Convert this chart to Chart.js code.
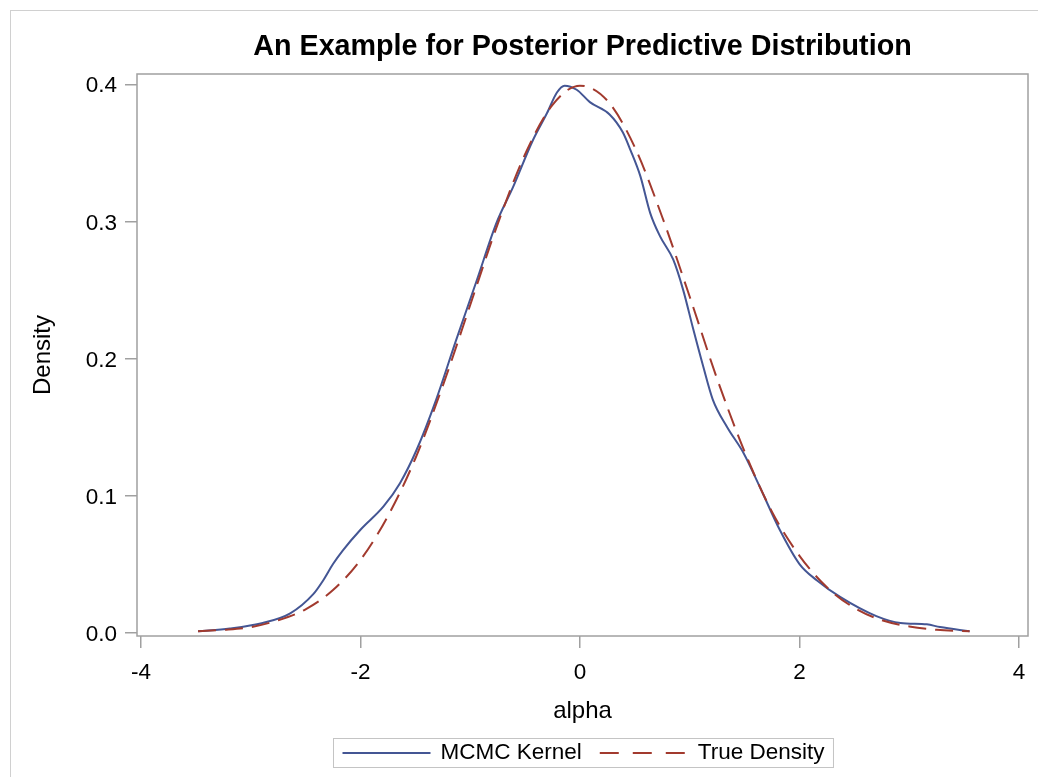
<!DOCTYPE html>
<html>
<head>
<meta charset="utf-8">
<title>An Example for Posterior Predictive Distribution</title>
<script src="https://cdn.jsdelivr.net/npm/chart.js@4.4.1/dist/chart.umd.min.js"></script>
<style>
  html, body { margin: 0; padding: 0; background: #fff; }
  #wrap { width: 1038px; height: 777px; position: relative; }
</style>
</head>
<body>
<div id="wrap"><canvas id="ppdChart" width="1038" height="777"></canvas></div>
<script>
'use strict';

// ------------------------------------------------------------
// Data
// ------------------------------------------------------------
const chartTitle = 'An Example for Posterior Predictive Distribution';
const xTicks = [-4, -2, 0, 2, 4];
const yTicks = [0.0, 0.1, 0.2, 0.3, 0.4];

// MCMC kernel density estimate (blue, solid)
const kernelX = [-3.48, -3.19, -2.89, -2.64, -2.43, -2.34, -2.25, -2.16, -2.0, -1.79,
                 -1.64, -1.49, -1.31, -1.13, -0.94, -0.76, -0.61, -0.43, -0.30, -0.21,
                 -0.14, -0.03, 0.09, 0.27, 0.39, 0.46, 0.55, 0.64, 0.73, 0.85,
                 0.94, 1.03, 1.12, 1.21, 1.34, 1.49, 1.64, 1.82, 2.0, 2.16,
                 2.37, 2.70, 2.92, 3.16, 3.28, 3.55];
const kernelY = [0.001, 0.003, 0.007, 0.014, 0.028, 0.038, 0.050, 0.060, 0.075, 0.092,
                 0.109, 0.133, 0.170, 0.213, 0.257, 0.299, 0.325, 0.359, 0.379, 0.394,
                 0.399, 0.396, 0.387, 0.378, 0.365, 0.352, 0.333, 0.306, 0.289, 0.272,
                 0.250, 0.222, 0.195, 0.170, 0.150, 0.131, 0.106, 0.075, 0.050, 0.038,
                 0.026, 0.012, 0.007, 0.006, 0.004, 0.001];

// True density (red, dashed)
const trueX = [-3.48, -3.25, -3.0, -2.75, -2.5, -2.25, -2.0, -1.75, -1.5, -1.25,
               -1.0, -0.75, -0.5, -0.25, 0.0, 0.25, 0.5, 0.75, 1.0, 1.25,
               1.5, 1.75, 2.0, 2.25, 2.5, 2.75, 3.0, 3.25, 3.55];
const trueY = [0.001, 0.002, 0.004, 0.009, 0.017, 0.031, 0.053, 0.085, 0.127, 0.180,
               0.239, 0.298, 0.349, 0.385, 0.399, 0.388, 0.354, 0.303, 0.245, 0.185,
               0.132, 0.088, 0.056, 0.033, 0.018, 0.009, 0.0045, 0.002, 0.001];

const FONT = "'Liberation Sans', Arial, sans-serif";
const AXIS_GRAY = '#a0a0a0';

const zip = (xs, ys) => xs.map((x, i) => ({ x, y: ys[i] }));

// ------------------------------------------------------------
// Title (centred on plot area), frame, outer border, legend
// ------------------------------------------------------------
const framePlugin = {
    id: 'frame',
    beforeDraw(chart) {
        const ctx = chart.ctx;
        ctx.save();
        ctx.strokeStyle = '#d0d0d0';
        ctx.lineWidth = 1;
        ctx.strokeRect(10.5, 10.5, chart.width + 10, chart.height + 10);
        ctx.restore();
    },
    afterDraw(chart) {
        const ctx = chart.ctx;
        const a = chart.chartArea;
        const cx = (a.left + a.right) / 2;

        // title
        ctx.save();
        ctx.font = 'bold 28.7px ' + FONT;
        ctx.fillStyle = '#000';
        ctx.textAlign = 'center';
        ctx.textBaseline = 'alphabetic';
        ctx.fillText(chartTitle, cx, 55);
        ctx.restore();

        // plot frame
        ctx.save();
        ctx.strokeStyle = AXIS_GRAY;
        ctx.lineWidth = 1.5;
        ctx.strokeRect(a.left, a.top, a.right - a.left, a.bottom - a.top);
        ctx.restore();

        // legend
        const ds = chart.data.datasets;
        ctx.save();
        ctx.font = '22.5px ' + FONT;
        const sampleLen = 88, gapText = 10, gapItem = 18, pad = 9;
        const widths = ds.map(d => ctx.measureText(d.label).width);
        const total = pad * 2 + ds.length * (sampleLen + gapText) + widths.reduce((s, w) => s + w, 0) + gapItem * (ds.length - 1);
        const boxX = Math.round(cx - total / 2) + 0.5;
        const boxY = 738.5, boxH = 29;
        ctx.strokeStyle = '#c4c4c4';
        ctx.lineWidth = 1;
        ctx.strokeRect(boxX, boxY, total, boxH);

        const midY = boxY + boxH / 2;
        let x = boxX + pad;
        ds.forEach((d, i) => {
            ctx.strokeStyle = d.borderColor;
            ctx.lineWidth = d.borderWidth;
            ctx.setLineDash(d.legendDash || []);
            ctx.beginPath();
            ctx.moveTo(x, midY);
            ctx.lineTo(x + sampleLen, midY);
            ctx.stroke();
            ctx.setLineDash([]);
            x += sampleLen + gapText;
            ctx.fillStyle = '#000';
            ctx.textBaseline = 'middle';
            ctx.textAlign = 'left';
            ctx.fillText(d.label, x, midY);
            x += widths[i] + gapItem;
        });
        ctx.restore();
    }
};

// ------------------------------------------------------------
// Chart
// ------------------------------------------------------------
new Chart(document.getElementById('ppdChart'), {
    type: 'line',
    data: {
        datasets: [
            {
                label: 'MCMC Kernel',
                data: zip(kernelX, kernelY),
                borderColor: '#445694',
                borderWidth: 2,
                pointRadius: 0,
                fill: false,
                cubicInterpolationMode: 'monotone',
                order: 1
            },
            {
                label: 'True Density',
                data: zip(trueX, trueY),
                borderColor: '#A23A2E',
                borderWidth: 2,
                borderDash: [18, 9],
                legendDash: [19, 14],
                pointRadius: 0,
                fill: false,
                cubicInterpolationMode: 'monotone',
                order: 0
            }
        ]
    },
    options: {
        responsive: false,
        animation: false,
        layout: { padding: { left: 16, right: 10, top: 74, bottom: 41 } },
        plugins: {
            legend: { display: false },
            tooltip: { enabled: false },
            title: { display: false }
        },
        scales: {
            x: {
                type: 'linear',
                min: -4.036,
                max: 4.082,
                afterBuildTicks: s => { s.ticks = xTicks.map(v => ({ value: v })); },
                afterFit: s => { s.height = 100; },
                ticks: {
                    color: '#000',
                    font: { family: FONT, size: 22.5 },
                    padding: 11,
                    maxRotation: 0,
                    callback: v => String(v)
                },
                grid: { drawOnChartArea: false, drawTicks: true, tickLength: 12, color: AXIS_GRAY, lineWidth: 1.5 },
                border: { display: false },
                title: {
                    display: true,
                    text: 'alpha',
                    color: '#000',
                    font: { family: FONT, size: 24 },
                    padding: { top: 0, bottom: 10 }
                }
            },
            y: {
                type: 'linear',
                min: -0.0025,
                max: 0.4075,
                afterBuildTicks: s => { s.ticks = yTicks.map(v => ({ value: v })); },
                afterFit: s => { s.width = 121; },
                ticks: {
                    color: '#000',
                    font: { family: FONT, size: 22.5 },
                    padding: 8,
                    labelOffset: 2,
                    callback: v => Number(v).toFixed(1)
                },
                grid: { drawOnChartArea: false, drawTicks: true, tickLength: 12, color: AXIS_GRAY, lineWidth: 1.5 },
                border: { display: false },
                title: {
                    display: true,
                    text: 'Density',
                    color: '#000',
                    font: { family: FONT, size: 24 },
                    padding: { top: 13, bottom: 0 }
                }
            }
        }
    },
    plugins: [framePlugin]
});
</script>
</body>
</html>
